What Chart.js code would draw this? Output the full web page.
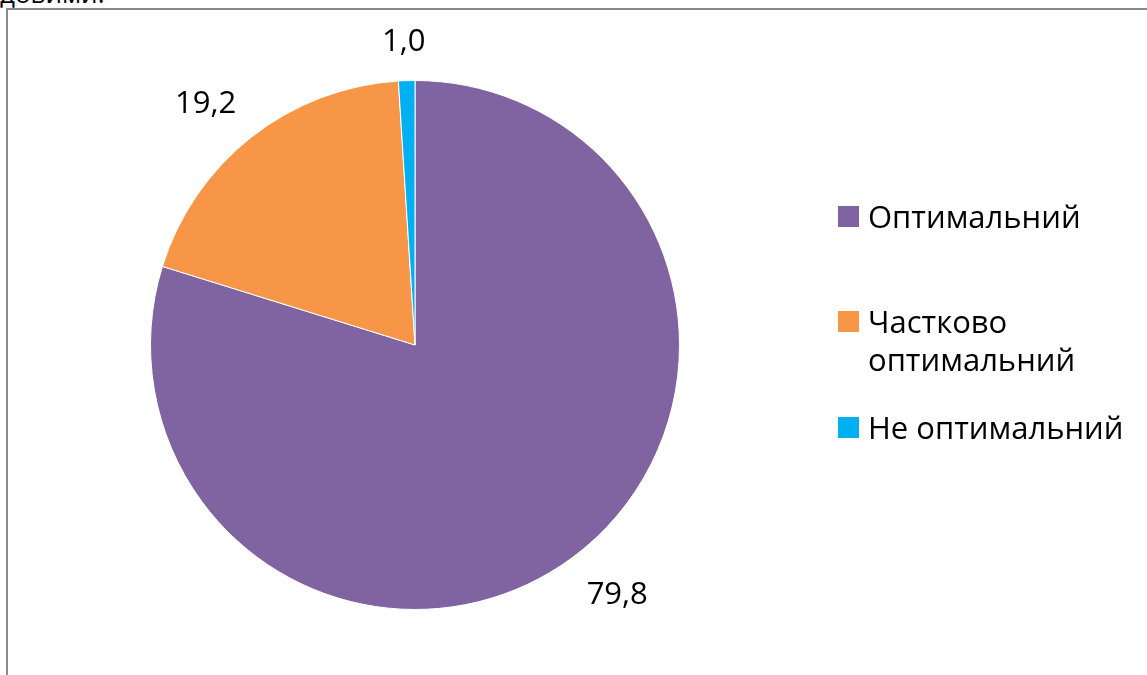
<!DOCTYPE html>
<html>
<head>
<meta charset="utf-8">
<script src="https://cdn.jsdelivr.net/npm/chart.js@4.4.1/dist/chart.umd.min.js"></script>
<style>
  html, body { margin: 0; padding: 0; background: #fff; width: 1147px; height: 675px; overflow: hidden; }
  #wrap { position: relative; width: 1147px; height: 675px; }
  #frame { position: absolute; left: 6px; top: 8px; width: 1160px; height: 700px; border-top: 2px solid #8a8a8a; border-left: 2px solid #8a8a8a; box-sizing: border-box; }
  #cut { position: absolute; left: 0px; top: -21px; font-family: "Open Sans", sans-serif; font-size: 26px; color: #000; line-height: 28px; white-space: nowrap; }
  #chart { position: absolute; left: 0; top: 0; }
  #legend { position: absolute; left: 838px; top: 0; font-family: "Open Sans", sans-serif; font-size: 31px; color: #000; }
  .item { position: absolute; left: 0; white-space: nowrap; }
  .sw { position: absolute; left: 0; width: 21px; height: 21px; }
  .tx { position: absolute; left: 30px; line-height: 38px; }
</style>
</head>
<body>
<div id="wrap">
  <div id="cut">довими:</div>
  <div id="frame"></div>
  <canvas id="chart" width="1147" height="675"></canvas>
  <div id="legend"></div>
</div>
<script>
const categories = ["Оптимальний", "Частково оптимальний", "Не оптимальний"];
const legendLines = [["Оптимальний"], ["Частково", "оптимальний"], ["Не оптимальний"]];
const values = [79.8, 19.2, 1.0];
const valueLabels = ["79,8", "19,2", "1,0"];
const colors = ["#8064A2", "#F79646", "#00B0F0"];

const labelFont = '31px "Open Sans", sans-serif';

const outsideLabels = {
  id: 'outsideLabels',
  afterDatasetsDraw(chart) {
    const ctx = chart.ctx;
    const meta = chart.getDatasetMeta(0);
    ctx.save();
    ctx.font = labelFont;
    ctx.fillStyle = '#000';
    ctx.textAlign = 'center';
    ctx.textBaseline = 'middle';
    const clamp = v => Math.max(-1, Math.min(1, v));
    meta.data.forEach((arc, i) => {
      const mid = (arc.startAngle + arc.endAngle) / 2;
      const ux = Math.cos(mid), uy = Math.sin(mid);
      const w = ctx.measureText(valueLabels[i]).width;
      const h = 30;
      const gap = 25;
      const d = arc.outerRadius + gap;
      const x = arc.x + ux * d + clamp(ux * 3) * w / 2;
      const y = arc.y + uy * d + clamp(uy * 3) * h / 2;
      ctx.fillText(valueLabels[i], x, y + 2);
    });
    ctx.restore();
  }
};

new Chart(document.getElementById('chart'), {
  type: 'pie',
  data: {
    labels: categories,
    datasets: [{
      data: values,
      backgroundColor: colors,
      borderColor: '#ffffff',
      borderWidth: 1
    }]
  },
  options: {
    responsive: false,
    animation: false,
    layout: { padding: { left: 150, right: 467, top: 80, bottom: 65 } },
    plugins: { legend: { display: false }, tooltip: { enabled: false } }
  },
  plugins: [outsideLabels]
});

// HTML legend built from the arrays
const legend = document.getElementById('legend');
const itemTops = [197, 302, 408];
categories.forEach((c, i) => {
  const item = document.createElement('div');
  item.className = 'item';
  item.style.top = itemTops[i] + 'px';
  const sw = document.createElement('div');
  sw.className = 'sw';
  sw.style.background = colors[i];
  sw.style.top = '9px';
  const tx = document.createElement('div');
  tx.className = 'tx';
  tx.innerHTML = legendLines[i].join('<br>');
  item.appendChild(sw);
  item.appendChild(tx);
  legend.appendChild(item);
});
</script>
</body>
</html>
